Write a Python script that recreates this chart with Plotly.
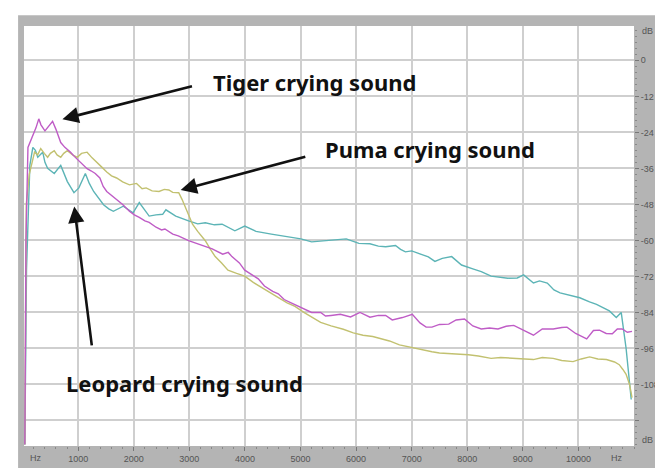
import plotly.graph_objects as go

# ---- data (frequency in Hz, level in dB) ----
tiger_hz = [40, 60, 96, 184, 240, 291, 330, 402, 460, 539, 600, 686, 760, 863, 930, 1012, 1090, 1160, 1230, 1307,
            1390, 1450, 1514, 1600, 1691, 1800, 1922, 2010, 2099, 2200, 2277, 2401, 2500, 2560, 2702, 2800, 2986, 3100,
            3287, 3411, 3600, 3700, 3766, 3900, 3996, 4121, 4240, 4351, 4500, 4600, 4706, 4850, 5007, 5100, 5200, 5362,
            5450, 5550, 5716, 5900, 6071, 6250, 6400, 6532, 6650, 6833, 6950, 7011, 7150, 7260, 7365, 7500, 7667, 7800,
            7950, 8100, 8252, 8400, 8553, 8700, 8837, 9000, 9191, 9350, 9546, 9700, 9794, 9950, 10149, 10270, 10379,
            10500, 10610, 10700, 10787, 10880, 10965]
tiger_db = [-128, -60, -29.0, -25.2, -22.5, -19.5, -21.5, -23.5, -22.0, -20.3, -23.0, -27.4, -29.0, -30.6, -32.0,
            -33.4, -35.0, -36.1, -36.8, -37.7, -39.2, -42.0, -43.7, -45.0, -46.4, -48.0, -50.3, -51.5, -52.3, -53.5,
            -54.0, -55.6, -56.5, -56.2, -57.9, -58.5, -60.1, -60.8, -62.1, -62.8, -64.6, -64.0, -65.4, -67.5, -69.9,
            -71.5, -72.8, -75.2, -77.0, -77.8, -79.7, -81.0, -82.4, -83.0, -84.0, -84.0, -85.2, -85.0, -84.6, -85.5,
            -84.0, -85.6, -85.0, -85.0, -86.5, -85.7, -85.0, -84.6, -87.5, -88.9, -88.9, -88.0, -87.9, -86.5, -86.2,
            -88.5, -89.5, -89.2, -89.5, -88.6, -88.3, -89.8, -91.6, -89.5, -89.5, -89.0, -88.9, -91.0, -92.8, -90.0,
            -89.9, -91.0, -91.1, -89.5, -89.5, -90.6, -90.3]

puma_hz = [40, 66, 120, 215, 270, 326, 390, 450, 500, 569, 620, 686, 740, 805, 900, 982, 1060, 1160, 1250, 1337,
           1420, 1514, 1600, 1691, 1800, 1922, 2050, 2150, 2223, 2330, 2454, 2550, 2631, 2700, 2809, 2870, 2933, 3000,
           3057, 3150, 3287, 3380, 3465, 3580, 3695, 3850, 3996, 4150, 4351, 4550, 4759, 4900, 5060, 5200, 5362, 5550,
           5770, 5950, 6124, 6300, 6479, 6600, 6780, 6950, 7064, 7200, 7365, 7500, 7667, 7850, 8021, 8200, 8429, 8600,
           8837, 9000, 9191, 9350, 9546, 9700, 9904, 10050, 10202, 10350, 10504, 10650, 10734, 10800, 10858, 10920,
           10965]
puma_db = [-128, -48, -38, -30.6, -31.5, -29.4, -31.0, -32.3, -31.0, -30.1, -31.5, -32.3, -31.0, -30.1, -31.5,
           -32.3, -31.0, -30.6, -32.5, -33.9, -35.5, -37.2, -38.5, -39.2, -40.5, -41.5, -41.0, -42.8, -42.5, -43.5,
           -43.7, -43.0, -43.2, -44.0, -44.1, -46.4, -49.0, -52.0, -54.6, -57.0, -60.1, -63.0, -65.4, -67.5, -69.9,
           -71.0, -71.9, -74.0, -76.4, -78.5, -80.8, -82.0, -84.0, -85.5, -87.3, -88.5, -89.6, -90.8, -91.6, -92.0,
           -92.8, -93.5, -94.8, -95.5, -96.0, -96.5, -97.1, -97.5, -97.7, -97.8, -98.1, -98.5, -99.3, -99.0, -99.3,
           -99.5, -99.7, -99.0, -99.3, -100.0, -100.4, -99.5, -98.8, -99.5, -99.7, -100.5, -101.4, -103.0, -104.6,
           -108.0, -112.4]

leopard_hz = [40, 70, 130, 184, 230, 273, 362, 402, 450, 569, 686, 745, 805, 924, 1012, 1129, 1200, 1278, 1370, 1456,
              1550, 1633, 1810, 1988, 2099, 2277, 2400, 2520, 2578, 2755, 2986, 3150, 3287, 3450, 3589, 3700, 3819,
              3996, 4200, 4475, 4700, 5007, 5200, 5468, 5650, 5823, 6050, 6248, 6400, 6532, 6709, 6800, 6887, 7000,
              7135, 7300, 7418, 7550, 7720, 7897, 8100, 8252, 8429, 8600, 8730, 8900, 9014, 9191, 9300, 9440, 9560,
              9670, 9800, 10025, 10200, 10326, 10450, 10557, 10681, 10770, 10858, 10950]
leopard_db = [-128, -70, -35, -29.0, -30.0, -32.3, -30.6, -34.0, -36.0, -37.7, -35.0, -38.0, -40.4, -44.1, -42.5,
              -37.7, -41.0, -43.7, -46.0, -48.1, -49.5, -50.3, -48.6, -50.8, -47.4, -51.9, -51.5, -51.3, -49.8, -51.9,
              -53.5, -54.5, -54.1, -54.8, -54.6, -55.8, -56.8, -55.2, -57.0, -57.9, -58.6, -59.5, -60.5, -60.1, -59.8,
              -59.5, -61.0, -61.1, -61.9, -62.1, -61.7, -63.0, -63.8, -63.5, -64.4, -65.5, -67.0, -66.0, -65.4, -68.2,
              -69.5, -70.4, -71.9, -72.3, -72.6, -72.5, -71.5, -74.2, -73.5, -74.2, -76.5, -77.5, -78.0, -79.1, -80.5,
              -81.3, -82.5, -83.5, -85.7, -84.0, -96.0, -113.0]

y_tick_vals = [0, -12, -24, -36, -48, -60, -72, -84, -96, -108, -120]
y_tick_text = ["0", "-12", "-24", "-36", "-48", "-60", "-72", "-84", "-96", "-108", ""]
x_tick_vals = [1000, 2000, 3000, 4000, 5000, 6000, 7000, 8000, 9000, 10000]
x_tick_text = ["1000", "2000", "3000", "4000", "5000", "6000", "7000", "8000", "9000", "10000"]

fig = go.Figure()
fig.add_trace(go.Scatter(x=leopard_hz, y=leopard_db, mode="lines", line=dict(color="#5cb4b6", width=1.4),
                         name="Leopard"))
fig.add_trace(go.Scatter(x=puma_hz, y=puma_db, mode="lines", line=dict(color="#c2c170", width=1.4), name="Puma"))
fig.add_trace(go.Scatter(x=tiger_hz, y=tiger_db, mode="lines", line=dict(color="#bf5cc6", width=1.4), name="Tiger"))

tick_font = dict(family="Liberation Sans", size=9, color="#555555")

fig.update_layout(
    width=663, height=468,
    margin=dict(l=16, r=28, t=18, b=22),
    paper_bgcolor="#b4b4b4",
    plot_bgcolor="white",
    showlegend=False,
    xaxis=dict(range=[25, 11000], tickvals=x_tick_vals, ticktext=x_tick_text, showgrid=True,
               gridcolor="#cfcfcf", gridwidth=1.5, zeroline=False, ticks="outside", ticklen=4,
               tickcolor="#777777", tickfont=tick_font, showline=False,
               minor=dict(dtick=200, ticks="outside", ticklen=2, tickcolor="#888888", showgrid=False)),
    yaxis=dict(range=[-128.5, 11.44], side="right", tickvals=y_tick_vals, ticktext=y_tick_text, showgrid=True,
               gridcolor="#cfcfcf", gridwidth=1.5, zeroline=False, ticks="outside", ticklen=4,
               tickcolor="#777777", tickfont=tick_font, showline=False,
               minor=dict(dtick=2, ticks="outside", ticklen=2, tickcolor="#888888", showgrid=False)),
    shapes=[
        dict(type="rect", xref="paper", yref="paper", x0=-0.03, x1=1.05, y0=1.0257, y1=1.06,
             fillcolor="white", line=dict(width=0), layer="above"),
        dict(type="rect", xref="paper", yref="paper", x0=-0.03, x1=-0.0097, y0=-0.06, y1=1.06,
             fillcolor="white", line=dict(width=0), layer="above"),
    ],
)

label_font = dict(family="Noto Sans", size=22, color="#111111")
arrow_style = dict(showarrow=True, arrowhead=2, arrowsize=1.25, arrowwidth=2.6, arrowcolor="#111111",
                   axref="x", ayref="y", text="")
fig.add_annotation(x=716, y=-19.6, ax=3074, ay=-8.5, **arrow_style)
fig.add_annotation(x=2844, y=-43.2, ax=5113, ay=-32.0, **arrow_style)
fig.add_annotation(x=929, y=-48.7, ax=1248, ay=-95.5, **arrow_style)

fig.add_annotation(x=5258, y=-7.2, text="<b>Tiger crying sound</b>", showarrow=False, font=label_font)
fig.add_annotation(x=7330, y=-29.4, text="<b>Puma crying sound</b>", showarrow=False, font=label_font)
fig.add_annotation(x=2916, y=-107.6, text="<b>Leopard crying sound</b>", showarrow=False, font=label_font)

unit_font = dict(family="Liberation Sans", size=9, color="#555555")
fig.add_annotation(xref="paper", yref="y", x=1, y=9.8, xanchor="left", xshift=6, text="dB", showarrow=False,
                   font=unit_font)
fig.add_annotation(xref="paper", yref="y", x=1, y=-126.5, xanchor="left", xshift=6, text="dB", showarrow=False,
                   font=unit_font)
fig.add_annotation(xref="paper", yref="paper", x=0, y=0, yanchor="top", yshift=-5, xshift=4, text="Hz",
                   showarrow=False, font=unit_font)
fig.add_annotation(xref="paper", yref="paper", x=0.9855, y=0, yanchor="top", yshift=-5, text="Hz",
                   showarrow=False, font=unit_font)

fig.write_html("out.html")
